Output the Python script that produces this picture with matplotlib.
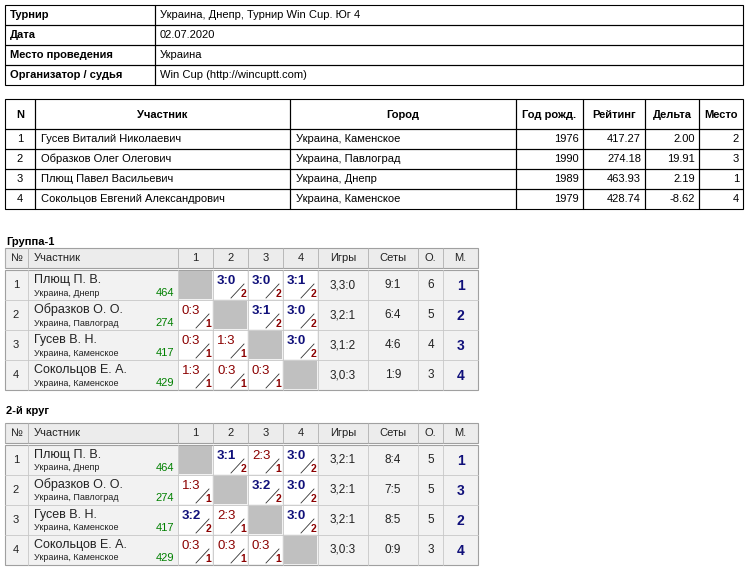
import matplotlib
matplotlib.use("Agg")
import matplotlib.pyplot as plt
from matplotlib.patches import Rectangle

plt.rcParams["font.family"] = ["Liberation Sans", "DejaVu Sans"]

INFO_LABELS = ["Турнир", "Дата", "Место проведения", "Организатор / судья"]
INFO_VALUES = ["Украина, Днепр, Турнир Win Cup. Юг 4", "02.07.2020", "Украина",
               "Win Cup (http://wincuptt.com)"]

P_HEAD = ["N", "Участник", "Город", "Год рожд.", "Рейтинг", "Дельта", "Место"]
P_NAMES = ["Гусев Виталий Николаевич", "Образков Олег Олегович",
           "Плющ Павел Васильевич", "Сокольцов Евгений Александрович"]
P_CITIES = ["Украина, Каменское", "Украина, Павлоград", "Украина, Днепр", "Украина, Каменское"]
P_YEARS = [1976, 1990, 1989, 1979]
P_RATING = ["417.27", "274.18", "463.93", "428.74"]
P_DELTA = ["2.00", "19.91", "2.19", "-8.62"]
P_PLACE = [2, 3, 1, 4]

G_NAMES = ["Плющ П. В.", "Образков О. О.", "Гусев В. Н.", "Сокольцов Е. А."]
G_CITIES = ["Украина, Днепр", "Украина, Павлоград", "Украина, Каменское", "Украина, Каменское"]
G_RATING = [464, 274, 417, 429]

G1_SCORES = [[None, "3:0", "3:0", "3:1"],
             ["0:3", None, "3:1", "3:0"],
             ["0:3", "1:3", None, "3:0"],
             ["1:3", "0:3", "0:3", None]]
G1_GAMES = ["3,3:0", "3,2:1", "3,1:2", "3,0:3"]
G1_SETS = ["9:1", "6:4", "4:6", "1:9"]
G1_PTS = [6, 5, 4, 3]
G1_PLACE = [1, 2, 3, 4]

G2_SCORES = [[None, "3:1", "2:3", "3:0"],
             ["1:3", None, "3:2", "3:0"],
             ["3:2", "2:3", None, "3:0"],
             ["0:3", "0:3", "0:3", None]]
G2_GAMES = ["3,2:1", "3,2:1", "3,2:1", "3,0:3"]
G2_SETS = ["8:4", "7:5", "8:5", "0:9"]
G2_PTS = [5, 5, 5, 3]
G2_PLACE = [1, 3, 2, 4]

BLUE = "#10107a"
RED = "#8b0000"
GREEN = "#008000"

fig = plt.figure(figsize=(7.5, 5.68), dpi=100)
ax = fig.add_axes([0, 0, 1, 1])
ax.set_xlim(0, 750)
ax.set_ylim(568, 0)
ax.axis("off")


def box(x0, y0, x1, y1, fc="none", ec="black", lw=0.8):
    ax.add_patch(Rectangle((x0, y0), x1 - x0, y1 - y0, fc=fc, ec=ec, lw=lw))


# Info table
for i, (lab, val) in enumerate(zip(INFO_LABELS, INFO_VALUES)):
    y0 = 5 + i * 20
    box(5, y0, 155, y0 + 20)
    box(155, y0, 743, y0 + 20)
    ax.text(10, y0 + 10, lab, fontsize=8, weight="bold", va="center")
    ax.text(160, y0 + 10, val, fontsize=8, va="center")

# Participants table
pcols = [5, 35, 290, 516, 583, 645, 699, 743]
for j, h in enumerate(P_HEAD):
    box(pcols[j], 99, pcols[j + 1], 129)
    ax.text((pcols[j] + pcols[j + 1]) / 2, 115, h, fontsize=8, weight="bold",
            ha="center", va="center")
for i in range(len(P_NAMES)):
    y0 = 129 + i * 20
    vals = [i + 1, P_NAMES[i], P_CITIES[i], P_YEARS[i], P_RATING[i], P_DELTA[i], P_PLACE[i]]
    for j, v in enumerate(vals):
        box(pcols[j], y0, pcols[j + 1], y0 + 20)
        if j in (1, 2):
            ax.text(pcols[j] + 6, y0 + 10, str(v), fontsize=8, va="center")
        elif j == 0:
            ax.text((pcols[0] + pcols[1]) / 2, y0 + 10, str(v), fontsize=8,
                    ha="center", va="center")
        else:
            ax.text(pcols[j + 1] - 4, y0 + 10, str(v), fontsize=8, ha="right", va="center")

gcols = [5, 28, 178, 213, 248, 283, 318, 368, 418, 443, 478]
G_HEAD = ["№", "Участник", "1", "2", "3", "4", "Игры", "Сеты", "О.", "М."]


def group(title, ytitle, yh, scores, games, sets, pts, places):
    ax.text(6, ytitle, title, fontsize=8, weight="bold", va="center")
    box(5, yh, 478, yh + 20, fc="#ececec", ec="#a0a0a0")
    for j, h in enumerate(G_HEAD):
        x0, x1 = gcols[j], gcols[j + 1]
        ax.plot([x0, x0], [yh, yh + 20], color="#b0b0b0", lw=0.6)
        if j == 1:
            ax.text(x0 + 6, yh + 10, h, fontsize=8, va="center", color="#222")
        else:
            ax.text((x0 + x1) / 2, yh + 10, h, fontsize=8, ha="center", va="center", color="#222")
    top = yh + 22
    box(5, top, 478, top + 120, fc="#f2f2f2", ec="#a0a0a0")
    for i in range(4):
        y0 = top + i * 30
        if i:
            ax.plot([5, 478], [y0, y0], color="#c8c8c8", lw=0.6)
        for x in gcols[1:-1]:
            ax.plot([x, x], [y0, y0 + 30], color="#c8c8c8", lw=0.6)
        ax.text(16, y0 + 15, str(i + 1), fontsize=8, ha="center", va="center", color="#222")
        ax.text(34, y0 + 10, G_NAMES[i], fontsize=9, va="center", color="#222")
        ax.text(34, y0 + 23, G_CITIES[i], fontsize=6.5, va="center", color="#222")
        ax.text(174, y0 + 23, str(G_RATING[i]), fontsize=8, ha="right", va="center", color=GREEN)
        for k in range(4):
            x0 = gcols[2 + k]
            s = scores[i][k]
            if s is None:
                ax.add_patch(Rectangle((x0 + 1, y0 + 1), 33, 28, fc="#c0c0c0", ec="none"))
                continue
            ax.add_patch(Rectangle((x0 + 1, y0 + 1), 33, 28, fc="white", ec="none"))
            a, b = map(int, s.split(":"))
            win = a > b
            c = BLUE if win else RED
            ax.text(x0 + 4, y0 + 11, s, fontsize=9.5, color=c,
                    weight="bold" if win else "normal", va="center")
            ax.plot([x0 + 18, x0 + 31], [y0 + 28, y0 + 14], color="#333", lw=0.6)
            ax.text(x0 + 33, y0 + 24, "2" if win else "1", fontsize=7.5, color=RED,
                    weight="bold", ha="right", va="center")
        for j, v in zip((6, 7, 8), (games[i], sets[i], pts[i])):
            ax.text((gcols[j] + gcols[j + 1]) / 2, y0 + 15, str(v), fontsize=8.5,
                    ha="center", va="center", color="#222")
        ax.text((gcols[9] + gcols[10]) / 2, y0 + 16, str(places[i]), fontsize=10,
                weight="bold", ha="center", va="center", color=BLUE)


group("Группа-1", 242, 248, G1_SCORES, G1_GAMES, G1_SETS, G1_PTS, G1_PLACE)
group("2-й круг", 411, 423, G2_SCORES, G2_GAMES, G2_SETS, G2_PTS, G2_PLACE)

fig.savefig("out.png", dpi=100, facecolor="white")
